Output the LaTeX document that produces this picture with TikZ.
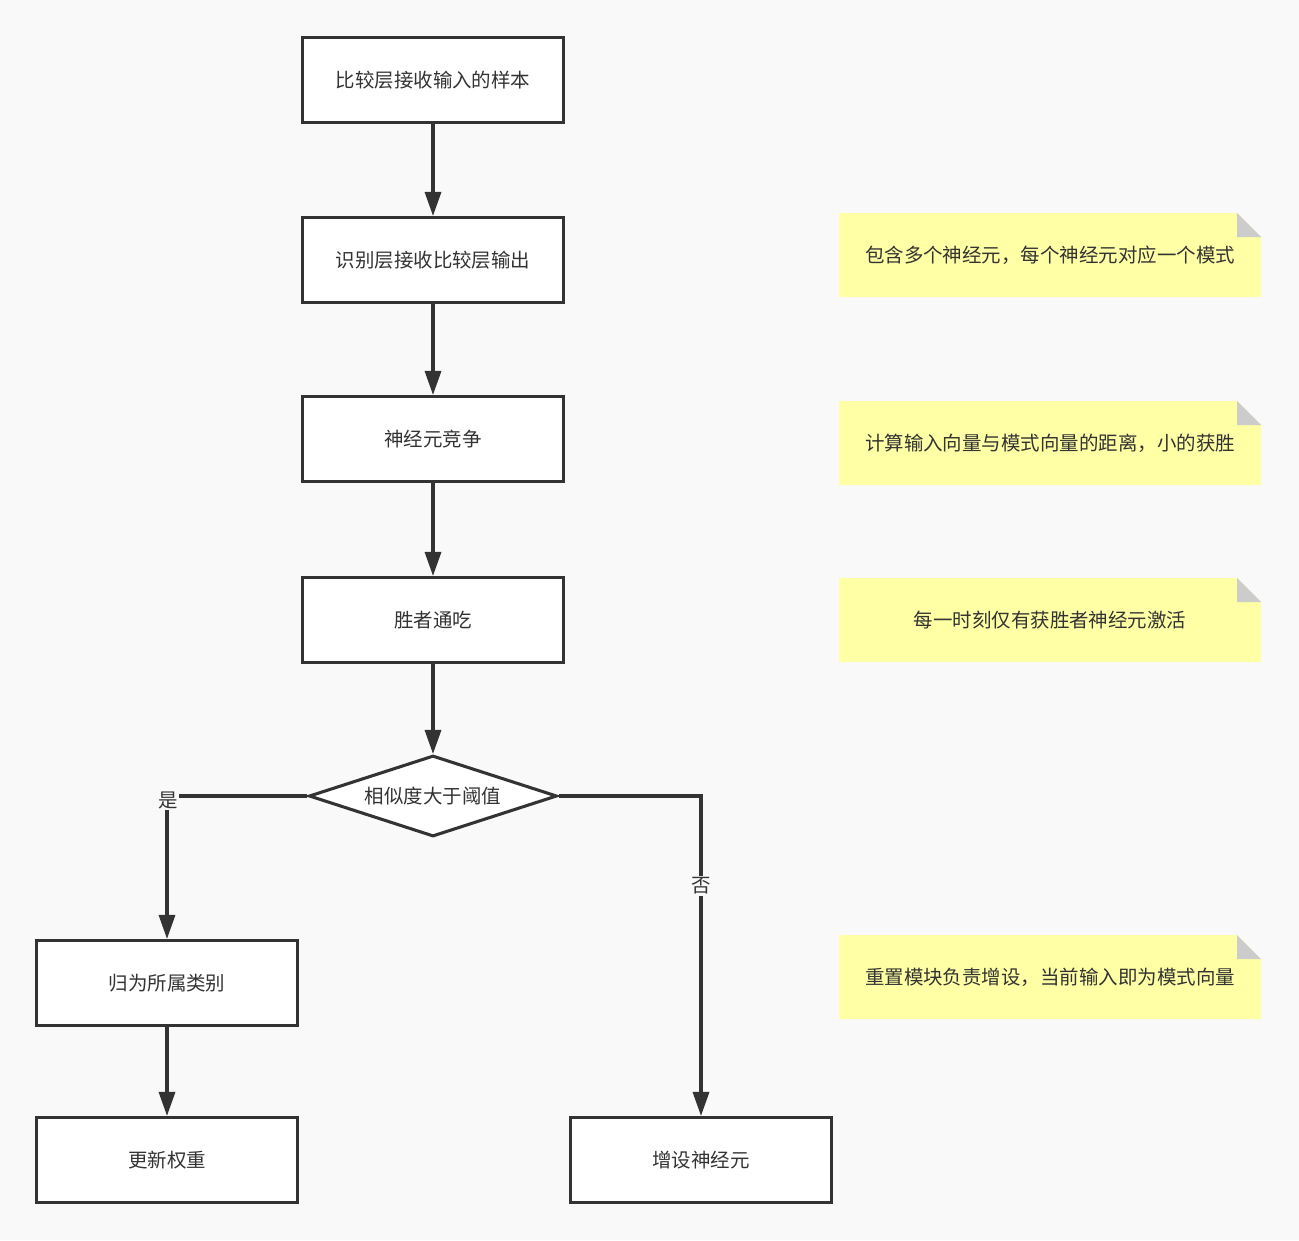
\documentclass[tikz,border=0pt]{standalone}
\usepackage{fontspec}
\setmainfont{Noto Sans CJK SC}
\usetikzlibrary{shapes.geometric,arrows.meta}
\definecolor{bg}{HTML}{F9F9F9}
\definecolor{ln}{HTML}{333333}
\definecolor{notebg}{HTML}{FFFFA5}
\definecolor{fold}{HTML}{CCCCCC}
\begin{document}
\begin{tikzpicture}[x=0.75pt,y=-0.75pt,
  every node/.style={font=\fontsize{14.6}{17}\selectfont, text=ln},
  box/.style={draw=ln, line width=2.3pt, fill=white, minimum width=261*0.75pt, minimum height=85*0.75pt, inner sep=0pt},
  dec/.style={draw=ln, line width=2.3pt, fill=white, diamond, aspect=3.06, minimum width=248*0.75pt, minimum height=81*0.75pt, inner sep=0pt},
  conn/.style={draw=ln, line width=2.4pt, -{Triangle[length=18pt,width=12pt]}},
  lbl/.style={fill=bg, inner sep=1pt},
  note/.style={fill=notebg, minimum width=422*0.75pt, minimum height=84*0.75pt, inner sep=0pt}]
\fill[bg] (0,0) rectangle (1299,1240);
\useasboundingbox (0,0) rectangle (1299,1240);

\node[box] (b1) at (433,80) {比较层接收输入的样本};
\node[box] (b2) at (433,260) {识别层接收比较层输出};
\node[box] (b3) at (433,439) {神经元竞争};
\node[box] (b4) at (433,620) {胜者通吃};
\node[dec] (d) at (433,796) {相似度大于阈值};
\node[box] (b5) at (167,983) {归为所属类别};
\node[box] (b6) at (167,1160) {更新权重};
\node[box] (b7) at (701,1160) {增设神经元};

\coordinate (cl) at (167,796);
\coordinate (cr) at (701,796);

\draw[conn] (b1) -- (b2);
\draw[conn] (b2) -- (b3);
\draw[conn] (b3) -- (b4);
\draw[conn] (b4) -- (d);
\draw[conn] (d.west) -- (cl) -- (b5.north);
\draw[conn] (b5) -- (b6);
\draw[conn] (d.east) -- (cr) -- (b7.north);
\node[lbl] (ly) at (168,800) {是};
\node[lbl] (ln) at (701,886) {否};

\foreach \y/\t/\n in {255/{包含多个神经元，每个神经元对应一个模式}/n1,
                       443/{计算输入向量与模式向量的距离，小的获胜}/n2,
                       620/{每一时刻仅有获胜者神经元激活}/n3,
                       977/{重置模块负责增设，当前输入即为模式向量}/n4}{
  \fill[notebg] (839,\y-42) -- (1237,\y-42) -- (1261,\y-18) -- (1261,\y+42) -- (839,\y+42) -- cycle;
  \fill[fold] (1237,\y-42) -- (1261,\y-18) -- (1237,\y-18) -- cycle;
  \node (\n) at (1050,\y) {\t};
}
\end{tikzpicture}
\end{document}
